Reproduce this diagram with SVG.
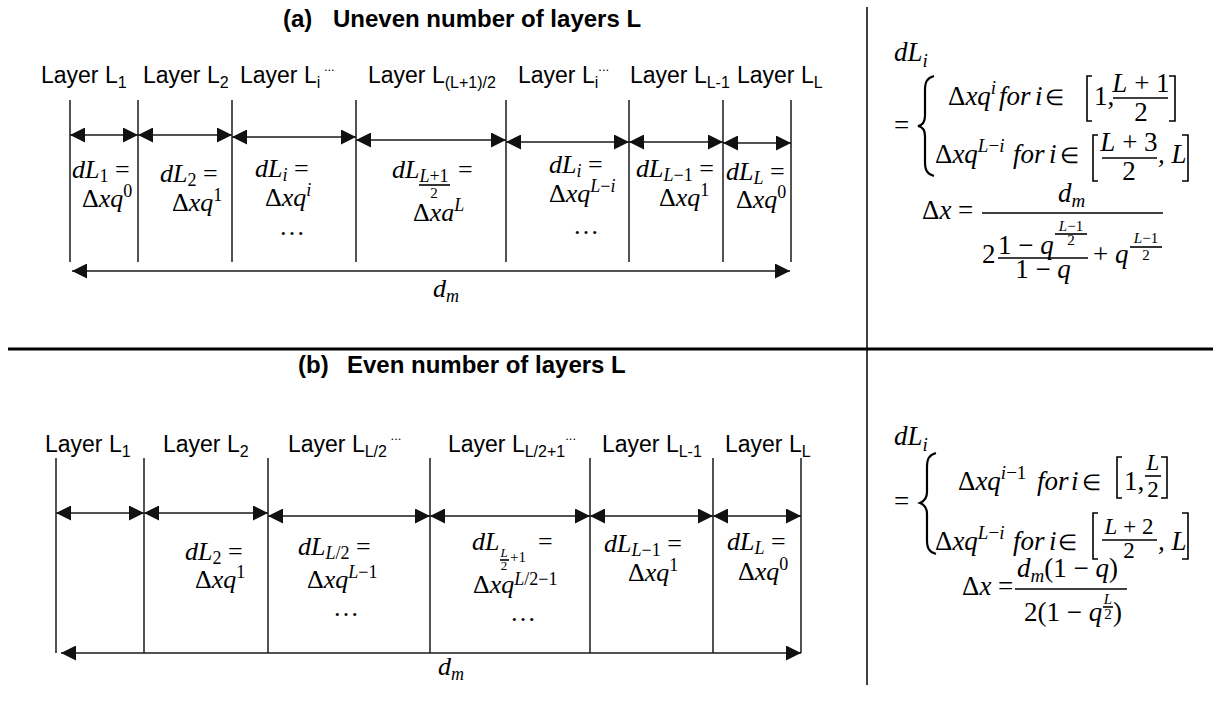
<svg xmlns="http://www.w3.org/2000/svg" width="1215" height="713" viewBox="0 0 1215 713">
<style>
.ttl{font-family:"Liberation Sans",Arial,sans-serif;font-weight:bold;font-size:24px;fill:#000}
.lbl{font-family:"Liberation Sans",Arial,sans-serif;font-size:23px;fill:#000}
.sb{font-size:16px}
.dt{font-size:13px}
.m{font-family:"Liberation Serif","Times New Roman",serif;font-style:italic;font-size:26px;fill:#000}
.r{font-size:27px}
.u{font-style:normal}
.s{font-size:18px}
.s2{font-size:19px}
.s3{font-size:15px}
.s4{font-size:13px}
.fr{font-size:23px}
.e{font-size:22px}
.ln{stroke:#1a1a1a;stroke-width:1.5;fill:none}
.ar{stroke:#1a1a1a;stroke-width:1.5;fill:none;marker-start:url(#ah);marker-end:url(#ah)}
.fb{stroke:#000;stroke-width:1.6;fill:none}
.br{stroke:#000;stroke-width:2.2;fill:none}
</style>
<defs>
<marker id="ah" viewBox="0 0 15 15" refX="15" refY="7.5" markerWidth="15" markerHeight="15" markerUnits="userSpaceOnUse" orient="auto-start-reverse"><path d="M0,0 L15,7.5 L0,15 z" fill="#111"/></marker>
</defs>
<rect width="1215" height="713" fill="#fff"/>

<g id="frame">
<line x1="8" y1="349" x2="1213" y2="349" stroke="#000" stroke-width="3"/>
<line x1="867" y1="7" x2="867" y2="685" stroke="#000" stroke-width="1.5"/>
</g>

<g id="title-a"><text class="ttl" x="283" y="27">(a)<tspan x="333">Uneven number of layers L</tspan></text></g>
<g id="title-b"><text class="ttl" x="298" y="373">(b)<tspan x="347">Even number of layers L</tspan></text></g>

<g id="layers-a">
<text class="lbl" x="41" y="83">Layer L<tspan class="sb" y="88">1</tspan></text>
<text class="lbl" x="143" y="83">Layer L<tspan class="sb" y="88">2</tspan></text>
<text class="lbl" x="240" y="83">Layer L<tspan class="sb" y="88">i</tspan><tspan class="dt" y="71"> ...</tspan></text>
<text class="lbl" x="368" y="83">Layer L<tspan class="sb" y="88">(L+1)/2</tspan></text>
<text class="lbl" x="518" y="83">Layer L<tspan class="sb" y="88">i</tspan><tspan class="dt" y="71">...</tspan></text>
<text class="lbl" x="630" y="83">Layer L<tspan class="sb" y="88">L-1</tspan></text>
<text class="lbl" x="737" y="83">Layer L<tspan class="sb" y="88">L</tspan></text>
</g>

<g id="layers-b">
<text class="lbl" x="45" y="452">Layer L<tspan class="sb" y="457">1</tspan></text>
<text class="lbl" x="163" y="452">Layer L<tspan class="sb" y="457">2</tspan></text>
<text class="lbl" x="288" y="452">Layer L<tspan class="sb" y="457">L/2</tspan><tspan class="dt" y="440"> ...</tspan></text>
<text class="lbl" x="448" y="452">Layer L<tspan class="sb" y="457">L/2+1</tspan><tspan class="dt" y="440">...</tspan></text>
<text class="lbl" x="602" y="452">Layer L<tspan class="sb" y="457">L-1</tspan></text>
<text class="lbl" x="725" y="452">Layer L<tspan class="sb" y="457">L</tspan></text>
</g>

<g id="connectors">
<line class="ln" x1="70" y1="100" x2="70" y2="262"/>
<line class="ln" x1="138" y1="100" x2="138" y2="262"/>
<line class="ln" x1="232" y1="100" x2="232" y2="262"/>
<line class="ln" x1="356" y1="100" x2="356" y2="262"/>
<line class="ln" x1="506" y1="100" x2="506" y2="262"/>
<line class="ln" x1="629" y1="100" x2="629" y2="262"/>
<line class="ln" x1="723" y1="100" x2="723" y2="262"/>
<line class="ln" x1="791" y1="100" x2="791" y2="262"/>
<line class="ar" x1="70" y1="135" x2="138" y2="135"/>
<line class="ar" x1="138" y1="135" x2="232" y2="135"/>
<line class="ar" x1="232" y1="137" x2="356" y2="137"/>
<line class="ar" x1="356" y1="140" x2="506" y2="140"/>
<line class="ar" x1="506" y1="142" x2="629" y2="142"/>
<line class="ar" x1="629" y1="142" x2="723" y2="142"/>
<line class="ar" x1="723" y1="143" x2="791" y2="143"/>
<line class="ar" x1="72" y1="271" x2="790" y2="271"/>

<line class="ln" x1="56" y1="458" x2="56" y2="653"/>
<line class="ln" x1="144" y1="458" x2="144" y2="653"/>
<line class="ln" x1="268" y1="458" x2="268" y2="653"/>
<line class="ln" x1="430" y1="458" x2="430" y2="653"/>
<line class="ln" x1="590" y1="458" x2="590" y2="653"/>
<line class="ln" x1="713" y1="458" x2="713" y2="653"/>
<line class="ln" x1="801" y1="458" x2="801" y2="653"/>
<line class="ar" x1="56" y1="513" x2="144" y2="513"/>
<line class="ar" x1="144" y1="513" x2="268" y2="513"/>
<line class="ar" x1="268" y1="516" x2="430" y2="516"/>
<line class="ar" x1="430" y1="516" x2="590" y2="516"/>
<line class="ar" x1="590" y1="516" x2="713" y2="516"/>
<line class="ar" x1="713" y1="516" x2="801" y2="516"/>
<line class="ar" x1="61" y1="653" x2="801" y2="653"/>
</g>

<g id="dm-a"><text class="m" x="433" y="297">d<tspan class="s" y="302">m</tspan></text></g>
<g id="dm-b"><text class="m" x="438" y="675">d<tspan class="s" y="680">m</tspan></text></g>

<g id="cell-a1">
<text class="m" x="72" y="178">dL<tspan class="s u" y="182">1</tspan><tspan class="u" y="178"> =</tspan></text>
<text class="m" x="82" y="207"><tspan class="u">Δ</tspan>xq<tspan class="s u" y="197">0</tspan></text>
</g>
<g id="cell-a2">
<text class="m" x="160" y="182">dL<tspan class="s u" y="186">2</tspan><tspan class="u" y="182"> =</tspan></text>
<text class="m" x="172" y="211"><tspan class="u">Δ</tspan>xq<tspan class="s u" y="201">1</tspan></text>
</g>
<g id="cell-a3">
<text class="m" x="255" y="177">dL<tspan class="s" y="181">i</tspan><tspan class="u" y="177"> =</tspan></text>
<text class="m" x="265" y="206"><tspan class="u">Δ</tspan>xq<tspan class="s" y="196">i</tspan></text>
<text class="m u" x="279" y="235" font-size="20">…</text>
</g>
<g id="cell-a4">
<text class="m" x="392" y="178">dL</text>
<text class="m s" x="434" y="182" text-anchor="middle">L<tspan class="u">+1</tspan></text>
<line class="fb" x1="419" y1="185" x2="450" y2="185"/>
<text class="m s3 u" x="434" y="198" text-anchor="middle">2</text>
<text class="m u" x="458" y="178">=</text>
<text class="m" x="413" y="221"><tspan class="u">Δ</tspan>xa<tspan class="s" y="211">L</tspan></text>
</g>
<g id="cell-a5">
<text class="m" x="549" y="173">dL<tspan class="s" y="177">i</tspan><tspan class="u" y="173"> =</tspan></text>
<text class="m" x="549" y="202"><tspan class="u">Δ</tspan>xq<tspan class="s" y="192">L<tspan class="u">−</tspan>i</tspan></text>
<text class="m u" x="573" y="234" font-size="20">…</text>
</g>
<g id="cell-a6">
<text class="m" x="636" y="177">dL<tspan class="s" y="181">L<tspan class="u">−1</tspan></tspan><tspan class="u" y="177"> =</tspan></text>
<text class="m" x="659" y="206"><tspan class="u">Δ</tspan>xq<tspan class="s u" y="196">1</tspan></text>
</g>
<g id="cell-a7">
<text class="m" x="726" y="180">dL<tspan class="s" y="184">L</tspan><tspan class="u" y="180"> =</tspan></text>
<text class="m" x="736" y="208"><tspan class="u">Δ</tspan>xq<tspan class="s u" y="198">0</tspan></text>
</g>

<g id="cell-b2">
<text class="m" x="185" y="560">dL<tspan class="s u" y="564">2</tspan><tspan class="u" y="560"> =</tspan></text>
<text class="m" x="195" y="588"><tspan class="u">Δ</tspan>xq<tspan class="s u" y="578">1</tspan></text>
</g>
<g id="cell-b3">
<text class="m" x="298" y="555">dL<tspan class="s" y="559">L<tspan class="u">/2</tspan></tspan><tspan class="u" y="555"> =</tspan></text>
<text class="m" x="307" y="588"><tspan class="u">Δ</tspan>xq<tspan class="s" y="578">L<tspan class="u">−1</tspan></tspan></text>
<text class="m u" x="333" y="616" font-size="20">…</text>
</g>
<g id="cell-b4">
<text class="m" x="472" y="550">dL</text>
<text class="m s4" x="504" y="557" text-anchor="middle">L</text>
<line class="fb" x1="500" y1="560" x2="509" y2="560"/>
<text class="m s4 u" x="504" y="570" text-anchor="middle">2</text>
<text class="m s3 u" x="510" y="562">+1</text>
<text class="m u" x="538" y="550">=</text>
<text class="m" x="473" y="593"><tspan class="u">Δ</tspan>xq<tspan class="s" y="585">L<tspan class="u">/2−1</tspan></tspan></text>
<text class="m u" x="510" y="621" font-size="20">…</text>
</g>
<g id="cell-b5">
<text class="m" x="604" y="552">dL<tspan class="s" y="556">L<tspan class="u">−1</tspan></tspan><tspan class="u" y="552"> =</tspan></text>
<text class="m" x="628" y="581"><tspan class="u">Δ</tspan>xq<tspan class="s u" y="571">1</tspan></text>
</g>
<g id="cell-b6">
<text class="m" x="727" y="550">dL<tspan class="s" y="554">L</tspan><tspan class="u" y="550"> =</tspan></text>
<text class="m" x="738" y="580"><tspan class="u">Δ</tspan>xq<tspan class="s u" y="570">0</tspan></text>
</g>

<g id="formula-a">
<text class="m r" x="894" y="61">dL<tspan class="s2" y="67">i</tspan></text>
<text class="m r u" x="894" y="134">=</text>
<path class="br" d="M934,76 C927,78 925,82 925,90 L925,116 C925,121 923,125 918,126 C923,127 925,131 925,136 L925,162 C925,170 927,174 934,176"/>
<text class="m r" x="948" y="105"><tspan class="u">Δ</tspan>xq<tspan class="s2" y="94">i</tspan></text>
<text class="m r" x="999" y="105">for</text>
<text class="m r" x="1035" y="105">i</text>
<text class="m u e" x="1045" y="105">∈</text>
<path class="fb" d="M1092,76 L1087,76 L1087,121 L1092,121"/>
<text class="m r u" x="1094" y="105">1,</text>
<text class="m r" x="1141" y="92" text-anchor="middle">L<tspan class="u"> + 1</tspan></text>
<line class="fb" x1="1113" y1="98" x2="1168" y2="98"/>
<text class="m r u" x="1141" y="121" text-anchor="middle">2</text>
<path class="fb" d="M1169,76 L1175,76 L1175,121 L1169,121"/>

<text class="m r" x="935" y="163"><tspan class="u">Δ</tspan>xq<tspan class="s2" y="152">L<tspan class="u">−</tspan>i</tspan></text>
<text class="m r" x="1013" y="163">for</text>
<text class="m r" x="1049" y="163">i</text>
<text class="m u e" x="1060" y="163">∈</text>
<path class="fb" d="M1098,135 L1093,135 L1093,181 L1098,181"/>
<text class="m r" x="1129" y="151" text-anchor="middle">L<tspan class="u"> + 3</tspan></text>
<line class="fb" x1="1102" y1="158" x2="1157" y2="158"/>
<text class="m r u" x="1129" y="180" text-anchor="middle">2</text>
<text class="m r" x="1158" y="163">, L</text>
<path class="fb" d="M1182,135 L1188,135 L1188,181 L1182,181"/>

<text class="m r" x="922" y="219"><tspan class="u">Δ</tspan>x<tspan class="u"> =</tspan></text>
<text class="m r" x="1058" y="202">d<tspan class="s2" y="207">m</tspan></text>
<line class="fb" x1="982" y1="213" x2="1163" y2="213"/>
<text class="m r u" x="982" y="263">2</text>
<text class="m r" x="998" y="254"><tspan class="u">1 − </tspan>q</text>
<text class="m s3" x="1071" y="231" text-anchor="middle">L<tspan class="u">−1</tspan></text>
<line class="fb" x1="1055" y1="234" x2="1087" y2="234"/>
<text class="m s3 u" x="1071" y="245" text-anchor="middle">2</text>
<line class="fb" x1="998" y1="258" x2="1088" y2="258"/>
<text class="m r" x="1043" y="278" text-anchor="middle"><tspan class="u">1 − </tspan>q</text>
<text class="m r" x="1093" y="263"><tspan class="u">+ </tspan>q</text>
<text class="m s3" x="1146" y="243" text-anchor="middle">L<tspan class="u">−1</tspan></text>
<line class="fb" x1="1130" y1="247" x2="1162" y2="247"/>
<text class="m s3 u" x="1146" y="260" text-anchor="middle">2</text>
</g>

<g id="formula-b">
<text class="m r" x="894" y="445">dL<tspan class="s2" y="451">i</tspan></text>
<text class="m r u" x="894" y="510">=</text>
<path class="br" d="M936,453 C929,455 927,459 927,467 L927,492 C927,497 925,501 920,503 C925,505 927,509 927,514 L927,540 C927,548 929,552 936,554"/>
<text class="m r" x="958" y="490"><tspan class="u">Δ</tspan>xq<tspan class="s2" y="479">i<tspan class="u">−1</tspan></tspan></text>
<text class="m r" x="1037" y="490">for</text>
<text class="m r" x="1071" y="490">i</text>
<text class="m u e" x="1082" y="490">∈</text>
<path class="fb" d="M1122,457 L1117,457 L1117,498 L1122,498"/>
<text class="m r u" x="1124" y="490">1,</text>
<text class="m fr" x="1153" y="470" text-anchor="middle">L</text>
<line class="fb" x1="1145" y1="476" x2="1161" y2="476"/>
<text class="m fr u" x="1153" y="497" text-anchor="middle">2</text>
<path class="fb" d="M1161,457 L1167,457 L1167,498 L1161,498"/>

<text class="m r" x="935" y="550"><tspan class="u">Δ</tspan>xq<tspan class="s2" y="539">L<tspan class="u">−</tspan>i</tspan></text>
<text class="m r" x="1013" y="550">for</text>
<text class="m r" x="1049" y="550">i</text>
<text class="m u e" x="1058" y="550">∈</text>
<path class="fb" d="M1098,513 L1093,513 L1093,559 L1098,559"/>
<text class="m fr" x="1129" y="534" text-anchor="middle">L<tspan class="u"> + 2</tspan></text>
<line class="fb" x1="1102" y1="540" x2="1157" y2="540"/>
<text class="m fr u" x="1129" y="558" text-anchor="middle">2</text>
<text class="m r" x="1158" y="550">, L</text>
<path class="fb" d="M1182,513 L1188,513 L1188,559 L1182,559"/>

<text class="m r" x="962" y="595"><tspan class="u">Δ</tspan>x<tspan class="u"> =</tspan></text>
<text class="m r" x="1017" y="577">d<tspan class="s2" y="582">m</tspan><tspan class="u" y="577">(1 − </tspan>q<tspan class="u">)</tspan></text>
<line class="fb" x1="1015" y1="589" x2="1127" y2="589"/>
<text class="m r" x="1024" y="621"><tspan class="u">2(1 − </tspan>q</text>
<text class="m s3" x="1108" y="604" text-anchor="middle">L</text>
<line class="fb" x1="1103" y1="607" x2="1113" y2="607"/>
<text class="m s3 u" x="1108" y="619" text-anchor="middle">2</text>
<text class="m r u" x="1113" y="621">)</text>
</g>
</svg>
